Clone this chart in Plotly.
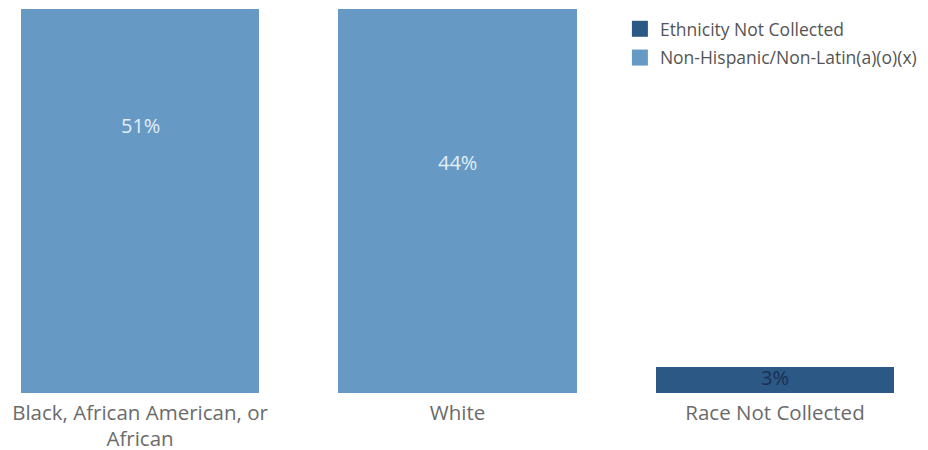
import plotly.graph_objects as go

# Share of records by race, split by ethnicity
races = ["Black, African American, or<br>African", "White", "Race Not Collected"]
non_hispanic = [51, 44, None]
ethnicity_not_collected = [None, None, 3]

LIGHT = "#6699c4"
DARK = "#2b5885"
ETH_NAME = "Ethnicity Not Collected"
NH_NAME = "Non-Hispanic/Non-Latin(a)(o)(x)"

fig = go.Figure()
fig.add_trace(go.Bar(
    x=races, y=ethnicity_not_collected, name=ETH_NAME, showlegend=False,
    marker=dict(color=DARK, line=dict(width=0)),
))
fig.add_trace(go.Bar(
    x=races, y=non_hispanic, name=NH_NAME, showlegend=False,
    marker=dict(color=LIGHT, line=dict(width=0)),
))

# Legend entries with larger square swatches
for name, color in [(ETH_NAME, DARK), (NH_NAME, LIGHT)]:
    fig.add_trace(go.Scatter(
        x=[None], y=[None], mode="markers", name=name, legendgroup=name,
        marker=dict(symbol="square", size=16, color=color),
    ))

# Value labels placed inside each bar
for cat, v in zip(races, non_hispanic):
    if v is not None:
        fig.add_annotation(x=cat, y=v * 0.6, text=f"{v}%", showarrow=False,
                           font=dict(size=20, color="#e3eef8", family="Open Sans"))
for cat, v in zip(races, ethnicity_not_collected):
    if v is not None:
        fig.add_annotation(x=cat, y=v * 0.6, text=f"{v}%", showarrow=False,
                           font=dict(size=20, color="#1b2f52", family="Open Sans"))

fig.update_layout(
    width=928, height=450,
    margin=dict(l=0, r=0, t=9, b=57),
    barmode="stack", bargap=0.25,
    plot_bgcolor="white", paper_bgcolor="white",
    font=dict(family="Open Sans", color="#666666"),
    showlegend=True,
    legend=dict(
        x=0.668, y=0.995, xanchor="left", yanchor="top",
        traceorder="grouped", font=dict(size=17.5, color="#555555"),
        bgcolor="rgba(0,0,0,0)", itemwidth=30, tracegroupgap=3,
        itemsizing="trace",
    ),
    xaxis=dict(range=[-0.441, 2.482], showgrid=False, zeroline=False,
               showline=False, ticks="outside", ticklen=1, tickcolor="rgba(0,0,0,0)",
               tickfont=dict(size=20.5, color="#6b6b6b"), automargin=False),
    yaxis=dict(range=[0, 44], visible=False, fixedrange=True, automargin=False),
)

fig.write_html("out.html")
